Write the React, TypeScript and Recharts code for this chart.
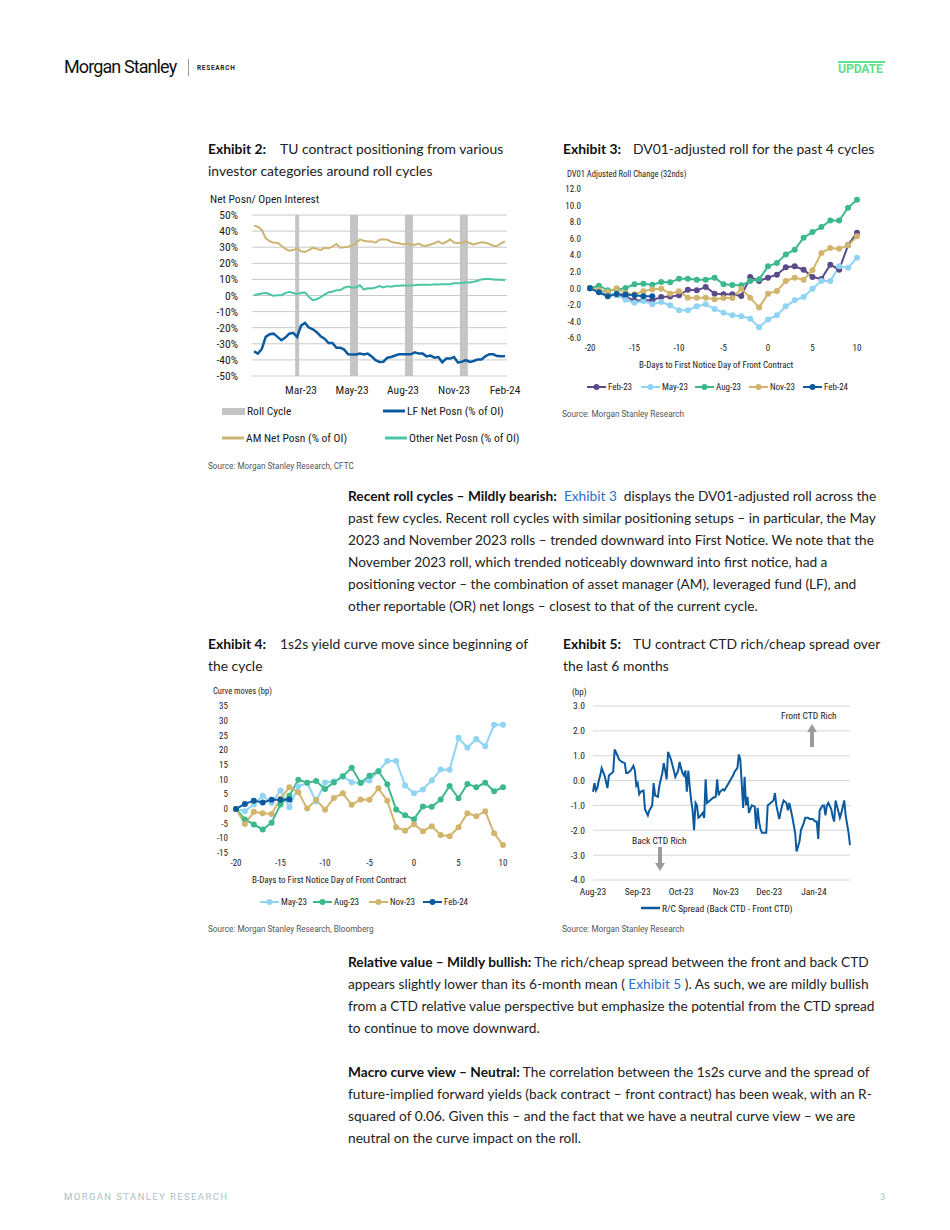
import React from "react";
import { ComposedChart, LineChart, Line, Bar, XAxis, YAxis, CartesianGrid } from "recharts";

const CHART_FONT = "'Liberation Sans Narrow', 'Roboto Condensed', Roboto, sans-serif";
const BODY_FONT = "Lato, 'Open Sans', sans-serif";

// ---- Exhibit 2: net positioning (% of OI), weekly
const amPosn = [
  43.4, 42.7, 40.7, 35.5, 33.8, 32.8, 32.8, 30.9, 29.0, 27.8,
  28.2, 29.3, 27.4, 27.0, 28.2, 29.7, 29.0, 28.2, 29.7, 29.3,
  30.3, 32.0, 29.7, 29.9, 30.3, 31.1, 32.2, 34.9, 34.0, 33.6,
  33.6, 32.8, 34.6, 35.0, 34.6, 33.4, 32.8, 32.4, 31.7, 32.4,
  31.5, 31.5, 32.2, 30.9, 30.9, 31.7, 32.4, 33.6, 32.2, 33.2,
  34.9, 32.8, 32.6, 32.8, 33.6, 32.4, 31.7, 32.4, 33.0, 32.8,
  32.0, 30.9, 30.7, 32.4, 33.6,
];
const lfPosn = [
  -34.6, -36.1, -33.2, -25.7, -24.1, -23.7, -25.7, -27.8, -26.1, -23.7,
  -23.2, -25.7, -18.7, -17.0, -19.9, -21.0, -22.8, -25.3, -26.8, -29.5,
  -29.5, -32.4, -32.4, -33.6, -36.5, -36.7, -36.7, -36.1, -36.7, -36.1,
  -37.8, -40.2, -41.3, -41.1, -38.6, -38.2, -37.3, -36.5, -36.5, -36.5,
  -36.5, -35.3, -36.1, -36.1, -37.8, -37.3, -38.6, -38.2, -41.5, -39.2,
  -39.2, -38.2, -41.7, -41.1, -40.2, -41.3, -40.7, -39.8, -39.8, -37.8,
  -36.5, -36.5, -37.6, -37.8, -37.8,
];
const otherPosn = [
  0.2, 0.8, 1.2, 1.7, 0.8, -0.2, 0.2, 0.2, 1.5, 2.3,
  1.5, 0.8, 1.7, 1.8, -0.8, -2.9, -2.3, -1.0, 0.5, 2.0,
  2.3, 3.3, 3.3, 4.8, 5.6, 5.0, 5.0, 6.4, 3.7, 4.5,
  4.3, 5.0, 5.8, 5.0, 5.8, 5.4, 6.0, 6.0, 6.2, 6.2,
  6.2, 6.4, 6.6, 6.6, 6.6, 6.6, 7.0, 6.8, 7.0, 7.0,
  7.0, 7.6, 7.6, 7.8, 8.1, 8.1, 8.6, 9.2, 10.0, 10.2,
  10.2, 10.0, 9.8, 9.8, 9.5,
];
const rollWeeks = [11, 25, 26, 39, 40, 53, 54];
const posnTickIdx = [12, 25, 38, 51, 64];
const posnTickLabels = ["Mar-23", "May-23", "Aug-23", "Nov-23", "Feb-24"];
const posnYTicks = [50, 40, 30, 20, 10, 0, -10, -20, -30, -40, -50];

// ---- Exhibit 3: DV01-adjusted roll (32nds)
const bDays = [-20, -19, -18, -17, -16, -15, -14, -13, -12, -11, -10, -9, -8, -7, -6, -5, -4, -3, -2, -1, 0, 1, 2, 3, 4, 5, 6, 7, 8, 9, 10];
const rollFeb23 = [0, -0.4, -0.6, -0.8, -1.0, -1.5, -1.45, -1.45, -1.05, -1.0, -0.85, -0.16, -0.24, 0.16, -0.64, -0.72, -0.72, -0.93, 1.37, 0.89, 1.29, 1.65, 2.54, 2.66, 2.25, 1.37, 1.13, 2.86, 2.25, 5.23, 6.72];
const rollMay23 = [0, -0.3, -0.6, -0.8, -1.37, -1.73, -1.53, -1.93, -1.65, -2.05, -2.66, -2.66, -2.17, -1.93, -2.5, -2.94, -3.26, -3.38, -3.66, -4.7, -3.78, -3.26, -2.17, -1.45, -1.05, -0.04, 0.89, 0.89, 2.66, 2.5, 3.7];
const rollAug23 = [0, 0.32, -0.24, -0.16, 0.04, 0.48, 0.56, 0.44, 0.76, 0.72, 1.17, 1.17, 1.05, 1.05, 1.29, 0.48, 0.4, 0.36, 0.89, 1.09, 2.66, 3.06, 4.1, 4.67, 6.12, 6.8, 7.4, 8.2, 8.2, 9.74, 10.7];
const rollNov23 = [0, -0.2, -0.4, 0.0, -0.6, -0.7, -0.36, -0.12, -0.04, -0.64, -0.36, -1.13, -1.13, -1.13, -1.33, -1.17, -1.17, -0.04, -1.13, -2.33, -0.64, -0.32, 0.89, 1.29, 1.05, 2.17, 4.27, 4.87, 4.79, 5.19, 6.28];
const rollFeb24 = [0, -0.48, -0.97, -0.68, -0.76, -0.85, -0.97, -0.97];
const rollYTicks = [-6, -4, -2, 0, 2, 4, 6, 8, 10, 12];
const dayTicks = [-20, -15, -10, -5, 0, 5, 10];

// ---- Exhibit 4: 1s2s curve moves (bp)
const curveMay23 = [0, -0.8, 1.5, 4.5, 2.0, 6.3, 0.6, 7.7, 8.8, 2.5, 9.0, 9.4, 11.0, 9.1, 8.8, 9.7, 12.8, 16.3, 16.3, 8.0, 5.3, 6.6, 9.7, 13.4, 13.3, 24.2, 20.8, 23.8, 21.3, 28.6, 28.6];
const curveAug23 = [0, -3.6, -5.3, -7.0, -4.7, 1.5, 4.5, 9.9, 8.9, 9.5, 6.8, 9.0, 11.1, 14.0, 8.9, 11.25, 12.8, 8.4, -0.2, -2.2, -3.5, 0.8, 0.7, 3.2, 7.8, 3.6, 8.5, 7.4, 8.9, 6.0, 7.4];
const curveNov23 = [0, -5.1, -1.0, -1.5, -1.7, 3.5, 7.4, 5.7, 0.1, 3.1, -0.3, 3.75, 5.3, 1.4, 3.2, 3.1, 7.0, 2.8, -6.25, -7.4, -5.2, -7.6, -5.9, -8.9, -9.3, -6.25, -1.5, -2.5, -0.8, -8.3, -12.3];
const curveFeb24 = [0, 1.7, 2.8, 2.2, 3.1, 3.1, 3.2];
const curveYTicks = [-15, -10, -5, 0, 5, 10, 15, 20, 25, 30, 35];

// ---- Exhibit 5: R/C spread (bp), days since 1-Aug-23
const spreadDays = [
  0, 1, 2, 3, 4, 5, 6, 8, 10, 11, 12, 14, 15, 17, 18, 20, 22, 23, 24, 26,
  28, 29, 30, 31, 32, 33, 35, 36, 38, 39, 41, 42, 43, 45, 46, 48, 49, 50, 51, 52,
  54, 56, 57, 59, 60, 61, 62, 63, 64, 65, 66, 67, 68, 69, 70, 71, 72, 73, 74, 76,
  77, 78, 79, 81, 83, 85, 86, 87, 88, 90, 91, 93, 95, 97, 98, 100, 101, 102, 103, 104,
  105, 106, 107, 108, 109, 110, 112, 113, 114, 115, 116, 117, 119, 120, 121, 123, 125, 126, 127, 129,
  130, 131, 132, 134, 135, 136, 138, 140, 141, 143, 144, 146, 147, 149, 150, 152, 154, 155, 156, 157,
  158, 159, 160, 161, 162, 163, 165, 166, 167, 168, 170, 171, 172, 174, 175, 177, 178,
];
const spreadValues = [
  -0.45, -0.1, -0.4, -0.3, 0.0, 0.2, 0.5, 0.2, -0.3, 0.2, 0.25, 0.35, 1.25, 1.0, 0.85, 0.75, 0.7, 0.3, 0.3, 0.4,
  0.6, 0.4, -0.2, -0.1, -0.55, -0.45, -0.4, -1.15, -1.4, -1.2, -1.0, -0.1, -0.6, -0.65, -0.2, 0.3, 0.7, 0.4, 0.05, 1.15,
  0.85, 0.4, 0.15, 0.4, 0.75, 0.5, 0.3, 0.2, 0.4, -0.45, 0.4, -0.25, -0.8, -1.2, -2.0, -0.9, -1.0, -1.5, -1.45, -1.3,
  -1.5, 0.05, -0.9, -0.8, -0.7, -0.65, 0.05, -0.6, -0.45, -0.35, -0.4, -0.2, 0.0, 0.2, 0.35, 0.5, 1.05, 0.85, -0.1, -1.1,
  0.15, -1.0, -0.65, -1.3, -1.15, -1.0, -1.05, -1.95, -1.1, -1.65, -1.95, -2.1, -2.1, -2.1, -1.0, -0.9, -0.8, -0.5, -1.0, -1.55,
  -1.25, -1.0, -0.8, -0.9, -1.2, -0.9, -1.45, -2.1, -2.85, -2.45, -2.0, -1.7, -1.5, -1.5, -1.55, -1.55, -1.65, -1.65, -2.35, -1.2,
  -1.1, -1.0, -1.0, -1.4, -1.0, -0.9, -1.15, -1.45, -1.65, -0.8, -1.25, -1.5, -1.3, -0.8, -1.4, -2.1, -2.6,
];
const monthTickDays = [0, 31, 61, 92, 122, 153];
const monthTickLabels = ["Aug-23", "Sep-23", "Oct-23", "Nov-23", "Dec-23", "Jan-24"];
const spreadYTicks = [-4, -3, -2, -1, 0, 1, 2, 3];

const C = {
  feb23: "#5b4a8b",
  may23: "#8fd4f2",
  aug23: "#3cb98c",
  nov23: "#d2b56c",
  feb24: "#0b5aa0",
  am: "#cdb472",
  lf: "#0b5aa0",
  other: "#4cc5a6",
  roll: "#c4c4c4",
};

const posnRows = amPosn.map((am, i) => ({
  week: i,
  am,
  lf: lfPosn[i],
  other: otherPosn[i],
  roll: rollWeeks.includes(i) ? [-50, 50] : null,
}));

const rollRows = bDays.map((d, i) => ({
  d,
  feb23: rollFeb23[i],
  may23: rollMay23[i],
  aug23: rollAug23[i],
  nov23: rollNov23[i],
  feb24: i < rollFeb24.length ? rollFeb24[i] : null,
}));

const curveRows = bDays.map((d, i) => ({
  d,
  may23: curveMay23[i],
  aug23: curveAug23[i],
  nov23: curveNov23[i],
  feb24: i < curveFeb24.length ? curveFeb24[i] : null,
}));

const spreadRows = spreadDays.map((day, i) => ({ day, v: spreadValues[i] }));

const T = ({ x, y, size = 13, h = 22, style = {}, children }: any) => (
  <div
    style={{
      position: "absolute",
      left: x,
      top: y - h / 2,
      height: h,
      lineHeight: `${h}px`,
      fontSize: size,
      whiteSpace: "nowrap",
      ...style,
    }}
  >
    {children}
  </div>
);

const chartTick = (size: number) => ({ fontSize: size, fill: "#1a1a1a", fontFamily: CHART_FONT });

const DotLegend = ({ x, y, color, label }: any) => (
  <div style={{ position: "absolute", left: x, top: y - 7, height: 14, display: "flex", alignItems: "center" }}>
    <svg width={19} height={14}>
      <line x1={0} y1={7} x2={19} y2={7} stroke={color} strokeWidth={2} />
      <circle cx={9.5} cy={7} r={3} fill={color} />
    </svg>
    <span style={{ marginLeft: 2, fontFamily: CHART_FONT, fontSize: 9, color: "#1a1a1a" }}>{label}</span>
  </div>
);

const LineLegend = ({ x, y, color, label, w = 22, sw = 3, size = 11.5 }: any) => (
  <div style={{ position: "absolute", left: x, top: y - 8, height: 16, display: "flex", alignItems: "center" }}>
    <svg width={w} height={16}>
      <line x1={0} y1={8} x2={w} y2={8} stroke={color} strokeWidth={sw} />
    </svg>
    <span style={{ marginLeft: 2, fontFamily: CHART_FONT, fontSize: size, color: "#1a1a1a" }}>{label}</span>
  </div>
);

const Source = ({ x, y, children }: any) => (
  <T x={x} y={y} size={8.2} h={12} style={{ fontFamily: "Roboto, sans-serif", color: "#555" }}>
    {children}
  </T>
);

const ExhibitTitle = ({ x, y, num, gap, line1, line2 }: any) => (
  <>
    <T x={x} y={y} size={13.9} style={{ fontFamily: BODY_FONT, fontWeight: 700, color: "#111" }}>
      {`Exhibit ${num}:`}
    </T>
    <T x={x + gap} y={y} size={13.9} style={{ fontFamily: BODY_FONT, color: "#222" }}>
      {line1}
    </T>
    {line2 && (
      <T x={x} y={y + 22} size={13.9} style={{ fontFamily: BODY_FONT, color: "#222" }}>
        {line2}
      </T>
    )}
  </>
);

const Para = ({ x, y, lines }: any) => (
  <>
    {lines.map((ln: any, i: number) => (
      <T key={i} x={x} y={y + i * 22} size={13.7} style={{ fontFamily: BODY_FONT, color: "#222" }}>
        {ln}
      </T>
    ))}
  </>
);

const B = ({ children }: any) => <b style={{ color: "#111" }}>{children}</b>;
const A = ({ children }: any) => <span style={{ color: "#2a6fd0" }}>{children}</span>;

function PositioningChart() {
  return (
    <div style={{ position: "absolute", left: 200, top: 200 }}>
      <ComposedChart
        width={328}
        height={200}
        data={posnRows}
        margin={{ top: 15, right: 21, bottom: 0, left: 0 }}
        barCategoryGap={0}
        barGap={0}
      >
        <CartesianGrid vertical={false} stroke="#c9c9c9" />
        <XAxis
          dataKey="week"
          type="category"
          interval={0}
          axisLine={false}
          tickLine={false}
          tickSize={0}
          tickMargin={10}
          height={24}
          tick={chartTick(11.5)}
          tickFormatter={(w: number) => {
            const k = posnTickIdx.indexOf(w);
            return k >= 0 ? posnTickLabels[k] : "";
          }}
        />
        <YAxis
          domain={[-50, 50]}
          ticks={posnYTicks}
          interval={0}
          width={52}
          axisLine={false}
          tickLine={false}
          tickSize={0}
          tickMargin={14}
          tick={chartTick(11.5)}
          tickFormatter={(v: number) => `${v}%`}
        />
        <Bar dataKey="roll" fill={C.roll} isAnimationActive={false} />
        <Line dataKey="am" stroke={C.am} strokeWidth={2} dot={false} isAnimationActive={false} />
        <Line dataKey="other" stroke={C.other} strokeWidth={2} dot={false} isAnimationActive={false} />
        <Line dataKey="lf" stroke={C.lf} strokeWidth={2.5} dot={false} isAnimationActive={false} />
      </ComposedChart>
    </div>
  );
}

function RollChart() {
  const series = ["feb23", "may23", "aug23", "nov23", "feb24"];
  return (
    <div style={{ position: "absolute", left: 555, top: 180 }}>
      <LineChart width={310} height={175} data={rollRows} margin={{ top: 9, right: 8, bottom: 0, left: 0 }}>
        <XAxis
          dataKey="d"
          type="number"
          domain={[-20, 10]}
          ticks={dayTicks}
          interval={0}
          axisLine={false}
          tickLine={false}
          tickSize={0}
          tickMargin={7}
          height={17}
          tick={chartTick(9)}
        />
        <YAxis
          domain={[-6, 12]}
          ticks={rollYTicks}
          interval={0}
          width={35}
          axisLine={false}
          tickLine={false}
          tickSize={0}
          tickMargin={9}
          tick={chartTick(9)}
          tickFormatter={(v: number) => v.toFixed(1)}
        />
        {series.map((k) => (
          <Line
            key={k}
            dataKey={k}
            stroke={(C as any)[k]}
            strokeWidth={2}
            dot={{ r: 3, fill: (C as any)[k], stroke: (C as any)[k], strokeWidth: 0 }}
            isAnimationActive={false}
          />
        ))}
      </LineChart>
    </div>
  );
}

function CurveChart() {
  const series = ["may23", "aug23", "nov23", "feb24"];
  return (
    <div style={{ position: "absolute", left: 200, top: 695 }}>
      <LineChart width={310} height={175} data={curveRows} margin={{ top: 11, right: 7, bottom: 0, left: 0 }}>
        <XAxis
          dataKey="d"
          type="number"
          domain={[-20, 10]}
          ticks={dayTicks}
          interval={0}
          axisLine={false}
          tickLine={false}
          tickSize={0}
          tickMargin={7}
          height={17}
          tick={chartTick(9)}
        />
        <YAxis
          domain={[-15, 35]}
          ticks={curveYTicks}
          interval={0}
          width={36}
          axisLine={false}
          tickLine={false}
          tickSize={0}
          tickMargin={8}
          tick={chartTick(9)}
        />
        {series.map((k) => (
          <Line
            key={k}
            dataKey={k}
            stroke={(C as any)[k]}
            strokeWidth={2}
            dot={{ r: 3, fill: (C as any)[k], stroke: (C as any)[k], strokeWidth: 0 }}
            isAnimationActive={false}
          />
        ))}
      </LineChart>
    </div>
  );
}

function SpreadChart() {
  return (
    <div style={{ position: "absolute", left: 555, top: 695 }}>
      <LineChart width={300} height={203} data={spreadRows} margin={{ top: 11, right: 5, bottom: 0, left: 0 }}>
        <CartesianGrid vertical={false} stroke="#d6d6d6" />
        <XAxis
          dataKey="day"
          type="number"
          domain={[0, 178]}
          ticks={monthTickDays}
          interval={0}
          axisLine={false}
          tickLine={false}
          tickSize={0}
          tickMargin={8}
          height={18}
          tick={chartTick(9.5)}
          tickFormatter={(d: number) => monthTickLabels[monthTickDays.indexOf(d)]}
        />
        <YAxis
          domain={[-4, 3]}
          ticks={spreadYTicks}
          interval={0}
          width={38}
          axisLine={false}
          tickLine={false}
          tickSize={0}
          tickMargin={8}
          tick={chartTick(9.5)}
          tickFormatter={(v: number) => v.toFixed(1)}
        />
        <Line dataKey="v" stroke={C.feb24} strokeWidth={2} dot={false} isAnimationActive={false} />
      </LineChart>
    </div>
  );
}

export default function App() {
  return (
    <div
      style={{
        position: "absolute",
        left: 0,
        top: 0,
        width: 950,
        height: 1230,
        background: "#fff",
        overflow: "hidden",
        fontFamily: BODY_FONT,
      }}
    >
      {/* header */}
      <T x={64} y={67} size={18} h={24} style={{ fontFamily: "Roboto, sans-serif", letterSpacing: -0.9, color: "#111" }}>
        Morgan Stanley
      </T>
      <div style={{ position: "absolute", left: 188, top: 59, width: 1, height: 17, background: "#999" }} />
      <T x={197} y={68} size={6.5} h={10} style={{ fontFamily: "Roboto, sans-serif", fontWeight: 700, letterSpacing: 0.7, color: "#222" }}>
        RESEARCH
      </T>
      <div style={{ position: "absolute", left: 838, top: 61, width: 47, height: 2, background: "#5fe08e" }} />
      <T x={838} y={69} size={12.3} h={14} style={{ fontFamily: "Roboto, sans-serif", fontWeight: 700, color: "#5fe08e", letterSpacing: -0.2 }}>
        UPDATE
      </T>

      {/* Exhibit 2 */}
      <ExhibitTitle x={208} y={149} num={2} gap={72} line1="TU contract positioning from various" line2="investor categories around roll cycles" />
      <T x={210} y={199} size={11.5} h={16} style={{ fontFamily: CHART_FONT, color: "#1a1a1a" }}>
        Net Posn/ Open Interest
      </T>
      <PositioningChart />
      <div style={{ position: "absolute", left: 222, top: 408, width: 23, height: 7, background: C.roll }} />
      <T x={247} y={411} size={11.5} h={16} style={{ fontFamily: CHART_FONT, color: "#1a1a1a" }}>
        Roll Cycle
      </T>
      <LineLegend x={383} y={411} color={C.lf} label="LF Net Posn (% of OI)" />
      <LineLegend x={222} y={438} color={C.am} label="AM Net Posn (% of OI)" />
      <LineLegend x={385} y={438} color={C.other} label="Other Net Posn (% of OI)" />
      <Source x={208} y={466}>Source: Morgan Stanley Research, CFTC</Source>

      {/* Exhibit 3 */}
      <ExhibitTitle x={563} y={149} num={3} gap={70} line1="DV01-adjusted roll for the past 4 cycles" />
      <T x={567} y={174} size={8.5} h={12} style={{ fontFamily: CHART_FONT, color: "#1a1a1a" }}>
        DV01 Adjusted Roll Change (32nds)
      </T>
      <RollChart />
      <T x={639} y={365} size={9} h={12} style={{ fontFamily: CHART_FONT, color: "#1a1a1a" }}>
        B-Days to First Notice Day of Front Contract
      </T>
      <DotLegend x={587} y={387} color={C.feb23} label="Feb-23" />
      <DotLegend x={641} y={387} color={C.may23} label="May-23" />
      <DotLegend x={695} y={387} color={C.aug23} label="Aug-23" />
      <DotLegend x={749} y={387} color={C.nov23} label="Nov-23" />
      <DotLegend x={803} y={387} color={C.feb24} label="Feb-24" />
      <Source x={562} y={414}>Source: Morgan Stanley Research</Source>

      {/* paragraph 1 */}
      <Para
        x={348}
        y={496}
        lines={[
          <>
            <B>Recent roll cycles – Mildly bearish:</B>&nbsp; <A>Exhibit 3</A>&nbsp; displays the DV01-adjusted roll across the
          </>,
          "past few cycles. Recent roll cycles with similar positioning setups – in particular, the May",
          "2023 and November 2023 rolls – trended downward into First Notice. We note that the",
          "November 2023 roll, which trended noticeably downward into first notice, had a",
          "positioning vector – the combination of asset manager (AM), leveraged fund (LF), and",
          "other reportable (OR) net longs – closest to that of the current cycle.",
        ]}
      />

      {/* Exhibit 4 */}
      <ExhibitTitle x={208} y={644} num={4} gap={72} line1="1s2s yield curve move since beginning of" line2="the cycle" />
      <T x={213} y={691} size={8.5} h={12} style={{ fontFamily: CHART_FONT, color: "#1a1a1a" }}>
        Curve moves (bp)
      </T>
      <CurveChart />
      <T x={252} y={880} size={9} h={12} style={{ fontFamily: CHART_FONT, color: "#1a1a1a" }}>
        B-Days to First Notice Day of Front Contract
      </T>
      <DotLegend x={260} y={902} color={C.may23} label="May-23" />
      <DotLegend x={313} y={902} color={C.aug23} label="Aug-23" />
      <DotLegend x={369} y={902} color={C.nov23} label="Nov-23" />
      <DotLegend x={423} y={902} color={C.feb24} label="Feb-24" />
      <Source x={208} y={929}>Source: Morgan Stanley Research, Bloomberg</Source>

      {/* Exhibit 5 */}
      <ExhibitTitle x={563} y={644} num={5} gap={70} line1="TU contract CTD rich/cheap spread over" line2="the last 6 months" />
      <T x={572} y={692} size={9} h={12} style={{ fontFamily: CHART_FONT, color: "#1a1a1a" }}>
        (bp)
      </T>
      <SpreadChart />
      <T x={781} y={716} size={9.5} h={12} style={{ fontFamily: CHART_FONT, color: "#1a1a1a" }}>
        Front CTD Rich
      </T>
      <T x={632} y={841} size={9.5} h={12} style={{ fontFamily: CHART_FONT, color: "#1a1a1a" }}>
        Back CTD Rich
      </T>
      <svg style={{ position: "absolute", left: 0, top: 0 }} width={950} height={1230} pointerEvents="none">
        <polygon points="812,724 817,732 807,732" fill="#9b9b9b" />
        <rect x={810} y={732} width={4} height={15} fill="#9b9b9b" />
        <rect x={658} y={847} width={4} height={16} fill="#9b9b9b" />
        <polygon points="655,863 665,863 660,871" fill="#9b9b9b" />
      </svg>
      <LineLegend x={641} y={908} color={C.feb24} label="R/C Spread (Back CTD - Front CTD)" w={19} sw={2.5} size={9.5} />
      <Source x={562} y={929}>Source: Morgan Stanley Research</Source>

      {/* paragraphs 2 and 3 */}
      <Para
        x={348}
        y={962}
        lines={[
          <>
            <B>Relative value – Mildly bullish:</B> The rich/cheap spread between the front and back CTD
          </>,
          <>
            appears slightly lower than its 6-month mean ( <A>Exhibit 5</A> ). As such, we are mildly bullish
          </>,
          "from a CTD relative value perspective but emphasize the potential from the CTD spread",
          "to continue to move downward.",
        ]}
      />
      <Para
        x={348}
        y={1072}
        lines={[
          <>
            <B>Macro curve view – Neutral:</B> The correlation between the 1s2s curve and the spread of
          </>,
          "future-implied forward yields (back contract – front contract) has been weak, with an R-",
          "squared of 0.06. Given this – and the fact that we have a neutral curve view – we are",
          "neutral on the curve impact on the roll.",
        ]}
      />

      {/* footer */}
      <T x={64} y={1197} size={9.5} h={14} style={{ fontFamily: "Roboto, sans-serif", letterSpacing: 1.4, color: "#a9c3c8" }}>
        MORGAN STANLEY RESEARCH
      </T>
      <T x={880} y={1197} size={9.5} h={14} style={{ fontFamily: "Roboto, sans-serif", color: "#a9c3c8" }}>
        3
      </T>
    </div>
  );
}
